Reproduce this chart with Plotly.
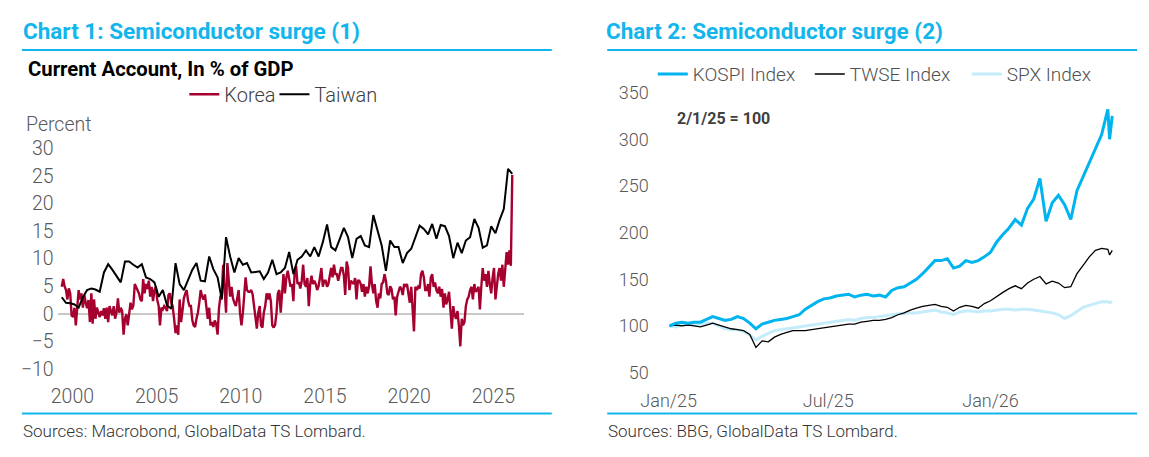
import pandas as pd
import plotly.graph_objects as go

W, H = 1149, 457

# ---------------- Chart 1 data: current account, % of GDP ----------------
korea_start = "1999-05-01"   # monthly
korea = [
    4.9, 6.3, 5.0, 4.3, 2.6, 4.6, 3.7, -0.3,
    -0.6, 1.1, -2.1, 1.1, 4.3, 2.6, 3.7, 1.1, 3.4, 2.0, 1.0, 2.5,
    -1.5, 3.7, -1.8, 2.6, -0.9, 1.1, 0.3, -0.6, 0.5, -0.3, 1.0, -0.9,
    1.1, -1.5, 1.4, 0.5, -0.3, 1.4, -0.9, 0.2, 2.8, 0.2, 1.1, 0.5,
    -3.8, -0.9, -0.1, -2.1, 0.2, 2.0, 0.8, 1.5, 5.4, 4.9, 4.3, 3.7,
    2.6, 2.3, 6.3, 3.7, 5.4, 4.5, 6.0, 3.1, 4.9, 2.3, 4.3, 4.9,
    2.5, 1.4, -2.1, 1.1, 0.8, 1.4, 1.1, 0.5, 3.4, 3.7, 2.0, 1.4,
    -0.9, -3.5, -2.1, -3.8, 2.6, -1.5, 0.5, 2.8, 3.7, 4.3, 2.3, 1.4,
    1.4, -1.2, -2.1, -2.4, -0.9, 0.2, 2.0, 4.3, 3.1, 2.6, 3.5, 1.1,
    -0.9, 1.1, -2.1, -1.5, -2.4, -1.2, -1.8, -3.8, 1.0, 3.1, 3.7, 8.9,
    4.9, 0.2, 9.2, 6.6, 3.1, 4.9, 2.8, 2.0, 1.4, 2.8, 4.3, 0.2,
    -2.1, 0.2, 2.8, 6.6, 4.3, 4.0, 4.0, 4.3, 3.5, 1.1, -1.0, -2.7,
    0.2, 1.4, -2.1, -2.5, 0.2, 1.4, 3.7, 2.6, 3.7, 2.3, -2.1, -2.5,
    -2.0, 0.2, 3.7, 4.3, 0.2, 4.3, 7.2, 3.7, 6.6, 7.8, 6.0, 4.9,
    5.4, 2.3, 7.8, 8.6, 5.4, 5.7, 4.6, 6.0, 8.9, 5.4, 4.9, 6.5,
    1.4, 5.4, 6.9, 5.4, 6.0, 5.4, 4.3, 5.0, 6.6, 8.3, 4.9, 6.0,
    6.0, 4.9, 5.4, 6.6, 8.3, 6.6, 8.9, 7.2, 7.2, 6.0, 7.5, 8.3,
    8.3, 6.9, 3.4, 9.5, 8.3, 4.3, 6.0, 5.7, 5.4, 6.5, 2.6, 6.0,
    6.0, 5.4, 4.0, 5.4, 3.1, 4.9, 3.7, 5.0, 8.6, 5.4, 3.7, 5.4,
    2.3, 1.1, 3.7, 2.8, 5.4, 5.7, 7.2, 6.0, 3.7, 3.4, 5.0, 4.5,
    2.6, 3.1, -0.3, 3.1, 4.3, 4.9, 4.6, 3.4, 5.4, 4.9, 5.4, 3.7,
    2.0, 4.9, -0.3, -3.2, 4.9, 4.3, 4.9, 4.6, 7.2, 7.8, 6.6, 4.3,
    4.3, 5.4, 3.1, 6.6, 7.2, 4.9, 5.7, 4.3, 3.7, 4.9, 3.1, 4.5,
    1.1, 3.7, 1.7, 2.6, 4.0, 0.2, -2.7, 1.4, -0.3, -0.9, 0.5, -2.1,
    -5.9, -0.9, -2.1, -1.5, 1.4, 2.6, 3.1, 4.3, 4.9, 2.6, 5.4, 4.0,
    4.3, 4.9, 0.8, 5.0, 8.3, 6.0, 7.2, 4.9, 7.8, 5.4, 3.7, 6.5,
    8.3, 2.6, 5.4, 7.2, 8.3, 6.0, 8.9, 4.9, 8.0, 11.2, 8.9, 11.5,
    8.7, 25.2,
]

taiwan_start = "1999-05-01"  # quarterly (mid-quarter)
taiwan = [
    3.0, 2.0, 1.9,
    1.7, 1.1, 3.0, 4.3,
    4.6, 4.4, 4.0, 7.5,
    9.0, 8.0, 6.8, 5.7,
    9.5, 9.5, 8.9, 8.4,
    9.0, 6.6, 6.3, 5.7,
    3.1, 4.3, 1.5, 0.9,
    9.2, 5.4, 4.3, 6.3,
    8.0, 9.2, 6.0, 5.9,
    10.4, 8.1, 6.6, 2.6,
    13.9, 10.4, 7.5, 10.1,
    8.9, 9.2, 7.5, 7.6,
    7.7, 6.3, 7.5, 9.8,
    7.2, 7.5, 8.3, 11.2,
    7.2, 9.8, 10.4, 11.5,
    10.4, 12.1, 10.4, 13.0,
    16.2, 12.1, 11.5, 13.5,
    15.6, 13.9, 10.1, 13.6,
    14.1, 12.4, 12.1, 17.9,
    15.3, 12.4, 7.8, 13.3,
    12.1, 12.1, 9.2, 11.0,
    11.8, 14.0, 16.0, 15.4,
    14.4, 16.3, 13.6, 16.1,
    15.9, 14.1, 10.1, 12.9,
    11.0, 13.3, 13.9, 17.2,
    15.6, 12.0, 12.4, 15.9,
    14.6, 17.0, 19.0, 26.3,
    25.4,
]
ca_ticks = list(range(2000, 2030, 5))

# ---------------- Chart 2 data: equity indices (2/1/25 = 100), weekly ----------------
idx_start = "2025-01-02"
kospi = [
    100, 103, 104, 103, 104, 104, 107, 110, 108, 106, 107, 110, 108, 103, 97, 102,
    104, 106, 107, 108, 110, 112, 118, 122, 126, 129, 130, 132, 133, 134, 131, 133,
    134, 132, 133, 131, 138, 141, 142, 146, 150, 156, 163, 170, 170, 172, 162, 164,
    170, 168, 170, 174,
    179, 190, 198, 205, 214, 208, 226, 236, 258, 212, 232, 240, 230, 214, 245, 260,
    276, 290, 305, 332,
]
twse = [
    100, 101, 100, 101, 100, 99, 101, 103, 101, 99, 97, 96, 95, 91, 77, 84,
    83, 88, 91, 93, 95, 95, 95, 96, 97, 98, 99, 100, 101, 102, 102, 104,
    105, 106, 106, 107, 109, 112, 114, 117, 119, 121, 122, 123, 121, 120, 116, 120,
    122, 121, 119, 124,
    127, 132, 136, 140, 143, 140, 146, 150, 153, 145, 148, 146, 141, 142, 156, 165,
    174, 181, 183, 182,
]
spx = [
    100, 99, 101, 102, 101, 102, 103, 103, 100, 97, 96, 96, 94, 90, 85, 89,
    92, 95, 96, 97, 98, 99, 100, 101, 102, 103, 104, 105, 106, 107, 106, 108,
    109, 109, 110, 111, 112, 113, 113, 114, 114, 115, 116, 117, 115, 114, 112, 115,
    116, 116, 115, 116,
    116, 117, 118, 118, 117, 118, 118, 117, 116, 115, 114, 112, 108, 111, 116, 120,
    122, 124, 126, 126,
]
tail_dates = ["2026-05-16", "2026-05-19"]
kospi_tail = [300, 325]
twse_tail = [176, 181]
spx_tail = [125, 126]

# ---------------- helpers (pixels -> paper fractions) ----------------
def px(x):
    return x / W

def py(y):
    return 1 - y / H

korea_x = pd.date_range(korea_start, periods=len(korea), freq="MS") + pd.Timedelta(days=14)
taiwan_x = pd.date_range(taiwan_start, periods=len(taiwan), freq="3MS") + pd.Timedelta(days=14)
idx_x = list(pd.date_range(idx_start, periods=len(kospi), freq="7D")) + list(pd.to_datetime(tail_dates))

CYAN = "#12B5EC"
RED = "#A6002F"
TICK = "#595959"
FONT = "Roboto"

fig = go.Figure()

fig.add_trace(go.Scatter(x=korea_x, y=korea, name="Korea", mode="lines",
                         line=dict(color=RED, width=2.4), xaxis="x", yaxis="y",
                         legend="legend"))
fig.add_trace(go.Scatter(x=taiwan_x, y=taiwan, name="Taiwan", mode="lines",
                         line=dict(color="#000000", width=2.0), xaxis="x", yaxis="y",
                         legend="legend3"))
fig.add_trace(go.Scatter(x=idx_x, y=spx + spx_tail, name="SPX Index", mode="lines",
                         line=dict(color="#C4ECFB", width=3), xaxis="x2", yaxis="y2",
                         legend="legend2", legendrank=3))
fig.add_trace(go.Scatter(x=idx_x, y=twse + twse_tail, name="TWSE Index", mode="lines",
                         line=dict(color="#000000", width=1.3), xaxis="x2", yaxis="y2",
                         legend="legend2", legendrank=2))
fig.add_trace(go.Scatter(x=idx_x, y=kospi + kospi_tail, name="KOSPI Index", mode="lines",
                         line=dict(color="#00B4F0", width=3), xaxis="x2", yaxis="y2",
                         legend="legend2", legendrank=1))

tickfont_l = dict(family=FONT, size=19.5, color=TICK, weight=300)
tickfont_r = dict(family=FONT, size=18, color=TICK, weight=300)

# left axes: 2000 at x=62, 17.0 px/yr ; 0 at y=318, 5.75 px/unit
L0, L1 = 47, 518
def year_to_date(y):
    return pd.Timestamp("2000-01-01") + pd.Timedelta(days=(y - 2000) * 365.25)
xl_range = [year_to_date(2000 + (L0 - 62) / 17.0), year_to_date(2000 + (L1 - 62) / 17.0)]

ytop, ybot = 30.3, -10.3
top_px = 318 - ytop * 5.75
bot_px = 318 - ybot * 5.75

fig.update_layout(
    xaxis=dict(domain=[px(L0), px(L1)], anchor="y", type="date", range=xl_range,
               tickvals=[pd.Timestamp(f"{t}-01-01") for t in ca_ticks],
               ticktext=[str(t) for t in ca_ticks],
               showgrid=False, showline=False, zeroline=False, ticks="",
               tickfont=tickfont_l, ticklabelstandoff=12),
    yaxis=dict(domain=[py(bot_px), py(top_px)], anchor="x", range=[ybot, ytop],
               tickvals=list(range(-10, 35, 5)), showgrid=False, showline=False,
               zeroline=True, zerolinecolor="#C8C8C8", zerolinewidth=1.5, ticks="",
               tickfont=tickfont_l, ticklabelstandoff=3),
)

# right axes: Jan 1 2025 at x=664, 0.8904 px/day ; 100 at y=330.7, 0.974 px/unit
R0, R1 = 647, 1130
d0 = pd.Timestamp("2025-01-01")
xr_range = [d0 + pd.Timedelta(days=(R0 - 664) / 0.8904), d0 + pd.Timedelta(days=(R1 - 664) / 0.8904)]
r_top, r_bot = 352, 48
rt_px = 330.7 - (r_top - 100) * 0.974
rb_px = 330.7 - (r_bot - 100) * 0.974

fig.update_layout(
    xaxis2=dict(domain=[px(R0), px(R1)], anchor="y2", type="date", range=xr_range,
                tick0="2025-01-01", dtick="M6", tickformat="%b/%y",
                showgrid=False, showline=False, zeroline=False, ticks="",
                tickfont=tickfont_r, ticklabelstandoff=14),
    yaxis2=dict(domain=[py(rb_px), py(rt_px)], anchor="x2", range=[r_bot, r_top],
                tickvals=list(range(50, 400, 50)), showgrid=False, showline=False,
                zeroline=False, ticks="", tickfont=tickfont_r, ticklabelstandoff=2),
)

leg_font_l = dict(family=FONT, size=20, color="#404040", weight=300)
fig.update_layout(
    legend=dict(orientation="h", x=px(175), y=py(89), xanchor="left", yanchor="middle",
                font=leg_font_l, bgcolor="rgba(0,0,0,0)", itemwidth=30),
    legend3=dict(orientation="h", x=px(266), y=py(89), xanchor="left", yanchor="middle",
                 font=leg_font_l, bgcolor="rgba(0,0,0,0)", itemwidth=30),
    legend2=dict(orientation="h", x=px(648), y=py(68), xanchor="left", yanchor="middle",
                 font=dict(family=FONT, size=19, color="#505050", weight=300),
                 bgcolor="rgba(0,0,0,0)", itemwidth=30, traceorder="normal",
                 entrywidth=112, entrywidthmode="pixels"),
)

ann = []
def text(x, y, s, size, color, weight="normal", xanchor="left"):
    ann.append(dict(x=px(x), y=py(y), xref="paper", yref="paper", text=s, showarrow=False,
                    xanchor=xanchor, yanchor="middle",
                    font=dict(family=FONT, size=size, color=color, weight=weight)))

text(10, 22.7, "Chart 1: Semiconductor surge (1)", 22.5, CYAN, "bold")
text(599, 22.7, "Chart 2: Semiconductor surge (2)", 22.5, CYAN, "bold")
text(15, 63, "Current Account, In % of GDP", 20.3, "#000000", "bold")
text(13, 120, "Percent", 19.5, TICK, 300)
text(670, 114, "2/1/25 = 100", 16, "#404040", "bold")
text(10, 440.5, "Sources: Macrobond, GlobalData TS Lombard.", 17, "#333333", 300)
text(601, 440.5, "Sources: BBG, GlobalData TS Lombard.", 17, "#333333", 300)

shapes = []
for (a, b) in [(11, 546), (602, 1137)]:
    for yy in (42.7, 422):
        shapes.append(dict(type="line", xref="paper", yref="paper",
                           x0=px(a), x1=px(b), y0=py(yy), y1=py(yy),
                           line=dict(color=CYAN, width=2)))

fig.update_layout(
    width=W, height=H, margin=dict(l=0, r=0, t=0, b=0),
    paper_bgcolor="white", plot_bgcolor="white",
    annotations=ann, shapes=shapes, showlegend=True,
    font=dict(family=FONT),
)

fig.write_html("out.html")
